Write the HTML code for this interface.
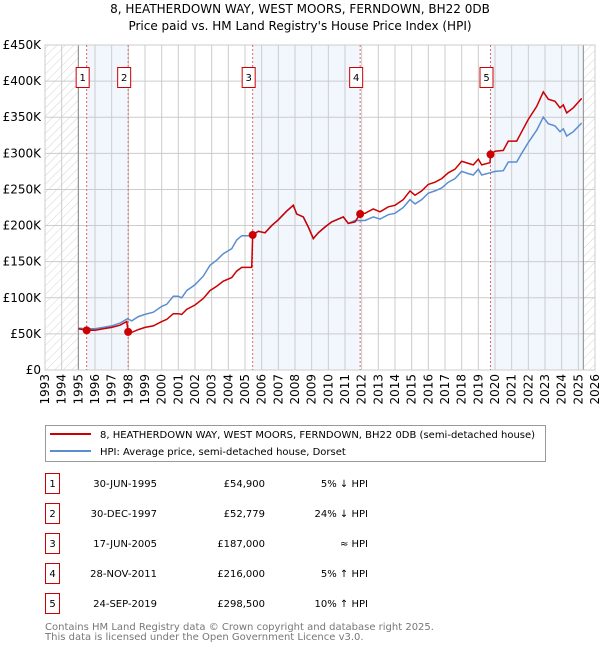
<!DOCTYPE html>
<html><head><meta charset="utf-8"><style>
body{margin:0;background:#fff;font-family:"DejaVu Sans","Liberation Sans",sans-serif;}
svg{display:block}
</style></head><body>
<svg id="chart" width="600" height="650" viewBox="0 0 600 650" font-family="DejaVu Sans, Liberation Sans, sans-serif">
<defs>
<pattern id="hatch" patternUnits="userSpaceOnUse" width="6" height="6" patternTransform="rotate(45)">
<line x1="0" y1="0" x2="0" y2="6" stroke="#d4d4d4" stroke-width="1"/></pattern>
</defs>
<text x="300" y="13" text-anchor="middle" font-size="12">8, HEATHERDOWN WAY, WEST MOORS, FERNDOWN, BH22 0DB</text>
<text x="300" y="30" text-anchor="middle" font-size="12">Price paid vs. HM Land Registry's House Price Index (HPI)</text>
<g id="plot"></g>
<g>
<rect x="45.5" y="425.5" width="500" height="36" fill="#fff" stroke="#999"/>
<line x1="50" y1="434" x2="91" y2="434" stroke="#cc0000" stroke-width="2"/>
<text x="100" y="438" font-size="10">8, HEATHERDOWN WAY, WEST MOORS, FERNDOWN, BH22 0DB (semi-detached house)</text>
<line x1="50" y1="451" x2="91" y2="451" stroke="#5b8ed1" stroke-width="2"/>
<text x="100" y="455" font-size="10">HPI: Average price, semi-detached house, Dorset</text>
</g>
<g id="table" font-size="10"></g>
<text x="45" y="630" font-size="10" fill="#777">Contains HM Land Registry data © Crown copyright and database right 2025.</text>
<text x="45" y="640" font-size="10" fill="#777">This data is licensed under the Open Government Licence v3.0.</text>
</svg>
<script>
const yTicks=[0,50,100,150,200,250,300,350,400,450];
const yTickLabels=["£0","£50K","£100K","£150K","£200K","£250K","£300K","£350K","£400K","£450K"];
const xYears=[1993,1994,1995,1996,1997,1998,1999,2000,2001,2002,2003,2004,2005,2006,2007,2008,2009,2010,2011,2012,2013,2014,2015,2016,2017,2018,2019,2020,2021,2022,2023,2024,2025,2026];
const hpiT=[1995,1995.5,1996,1996.5,1997,1997.5,1997.95,1998.2,1998.6,1999,1999.5,2000,2000.3,2000.7,2001,2001.2,2001.5,2002,2002.5,2002.9,2003.3,2003.7,2004.2,2004.5,2004.8,2005.4,2005.8,2006.2,2006.6,2007,2007.5,2007.9,2008.1,2008.5,2008.8,2009.1,2009.4,2009.8,2010.2,2010.6,2010.9,2011.2,2011.6,2011.9,2012.2,2012.7,2013.1,2013.6,2014,2014.5,2014.9,2015.2,2015.6,2016,2016.4,2016.8,2017.2,2017.6,2018,2018.4,2018.7,2019,2019.2,2019.7,2020,2020.5,2020.8,2021.3,2021.6,2022,2022.5,2022.9,2023.2,2023.6,2023.9,2024.1,2024.3,2024.7,2025.2];
const hpiV=[58,57,57,59,61,65,71,68,74,77,80,88,91,102,102,100,110,118,130,145,152,161,168,180,186,186,192,190,200,208,220,228,216,212,198,182,190,198,205,209,212,203,207,207,207,212,209,215,217,225,236,230,236,245,248,252,260,265,275,272,270,278,270,273,275,276,288,288,300,315,332,350,341,338,330,334,324,330,342];
const priceT=[1995,1995.5,1996,1996.5,1997,1997.5,1997.9,1997.99,1998.2,1998.6,1999,1999.5,2000,2000.3,2000.7,2001,2001.2,2001.5,2002,2002.5,2002.9,2003.3,2003.7,2004.2,2004.5,2004.8,2005.4,2005.46,2005.8,2006.2,2006.6,2007,2007.5,2007.9,2008.1,2008.5,2008.8,2009.1,2009.4,2009.8,2010.2,2010.6,2010.9,2011.2,2011.6,2011.9,2012.2,2012.7,2013.1,2013.6,2014,2014.5,2014.9,2015.2,2015.6,2016,2016.4,2016.8,2017.2,2017.6,2018,2018.4,2018.7,2019,2019.2,2019.7,2019.73,2020,2020.5,2020.8,2021.3,2021.6,2022,2022.5,2022.9,2023.2,2023.6,2023.9,2024.1,2024.3,2024.7,2025.2];
const priceV=[57,55,55,57,59,62,67,52.8,52,56,59,61,67,70,78,78,77,84,90,99,110,116,123,128,137,142,142,187,192,190,200,208,220,228,216,212,198,182,190,198,205,209,212,203,205,216,217,223,219,226,228,236,248,242,248,257,260,265,273,278,289,286,284,292,284,287,298.5,303,304,317,317,330,347,365,385,375,372,363,367,356,363,376];
const saleT=[1995.5,1997.99,2005.46,2011.91,2019.73];
const saleV=[54.9,52.779,187,216,298.5];
const saleLabels=["1","2","3","4","5"];
const saleDates=["30-JUN-1995","30-DEC-1997","17-JUN-2005","28-NOV-2011","24-SEP-2019"];
const salePrices=["£54,900","£52,779","£187,000","£216,000","£298,500"];
const saleRel=["5% ↓ HPI","24% ↓ HPI","≈ HPI","5% ↑ HPI","10% ↑ HPI"];

const NS="http://www.w3.org/2000/svg";
const X0=45,X1=595,Y0=370,Y1=45;
const xs=t=>X0+(t-1993)/(2026-1993)*(X1-X0);
const ys=v=>Y0-v/450*(Y0-Y1);
function mk(tag,attrs,parent,txt){const e=document.createElementNS(NS,tag);for(const k in attrs)e.setAttribute(k,attrs[k]);if(txt!==undefined)e.textContent=txt;parent.appendChild(e);return e;}
const plot=document.getElementById('plot');
const bandEdges=[saleT[0],saleT[1],saleT[2],saleT[3],saleT[4],2025.3];
[[0,1],[2,3],[4,5]].forEach(p=>{const r=mk('rect',{x:xs(bandEdges[p[0]]),y:Y1,width:xs(bandEdges[p[1]])-xs(bandEdges[p[0]]),height:Y0-Y1,fill:'#f2f6fd'},plot);

});
let h1=mk('rect',{x:X0,y:Y1,width:xs(1995)-X0,height:Y0-Y1,fill:'url(#hatch)'},plot);


let h2=mk('rect',{x:xs(2025.3),y:Y1,width:X1-xs(2025.3),height:Y0-Y1,fill:'url(#hatch)'},plot);


yTicks.forEach((v,i)=>{mk('line',{x1:X0,x2:X1,y1:ys(v),y2:ys(v),stroke:'#ccc'},plot);
const t=mk('text',{x:X0-4,y:ys(v)+4,'text-anchor':'end','font-size':12},plot,yTickLabels[i]);

});
xYears.forEach(y=>{mk('line',{x1:xs(y),x2:xs(y),y1:Y1,y2:Y0,stroke:'#ccc'},plot);
const t=mk('text',{transform:`translate(${xs(y)+4},${Y0+4}) rotate(-90)`,'text-anchor':'end','font-size':12},plot,String(y));

});
mk('line',{x1:xs(1995),x2:xs(1995),y1:Y1,y2:Y0,stroke:'#888'},plot);
mk('line',{x1:xs(2025.3),x2:xs(2025.3),y1:Y1,y2:Y0,stroke:'#888'},plot);
mk('rect',{x:X0,y:Y1,width:X1-X0,height:Y0-Y1,fill:'none',stroke:'#ccc'},plot);
saleT.forEach(t=>{mk('line',{x1:xs(t),x2:xs(t),y1:Y1,y2:Y0,stroke:'#e06666','stroke-dasharray':'2,2'},plot);});
const path=(T,V)=>T.map((t,i)=>(i?'L':'M')+xs(t).toFixed(1)+','+ys(V[i]).toFixed(1)).join('');
const hl=mk('path',{d:path(hpiT,hpiV),fill:'none',stroke:'#5b8ed1','stroke-width':1.5},plot);


const pl=mk('path',{d:path(priceT,priceV),fill:'none',stroke:'#cc0000','stroke-width':1.5},plot);


saleT.forEach((t,i)=>{const c=mk('circle',{cx:xs(t),cy:ys(saleV[i]),r:4,fill:'#cc0000'},plot);


const g=mk('g',{},plot);


mk('rect',{x:xs(t)-10.5,y:67.5,width:13,height:20,fill:'#fff',stroke:'#cc0000'},g);
mk('text',{x:xs(t)-4,y:81,'text-anchor':'middle','font-size':10},g,saleLabels[i]);});
const tb=document.getElementById('table');
saleLabels.forEach((l,i)=>{const cy=483+i*30;
const g=mk('g',{},tb);


mk('rect',{x:45.5,y:cy-9.5,width:14,height:20,fill:'#fff',stroke:'#cc0000'},g);
mk('text',{x:52.5,y:cy+4,'text-anchor':'middle'},g,l);
mk('text',{x:157,y:cy+4,'text-anchor':'end'},g,saleDates[i]);
mk('text',{x:265,y:cy+4,'text-anchor':'end'},g,salePrices[i]);
mk('text',{x:368,y:cy+4,'text-anchor':'end'},g,saleRel[i]);});
</script>
</body></html>
